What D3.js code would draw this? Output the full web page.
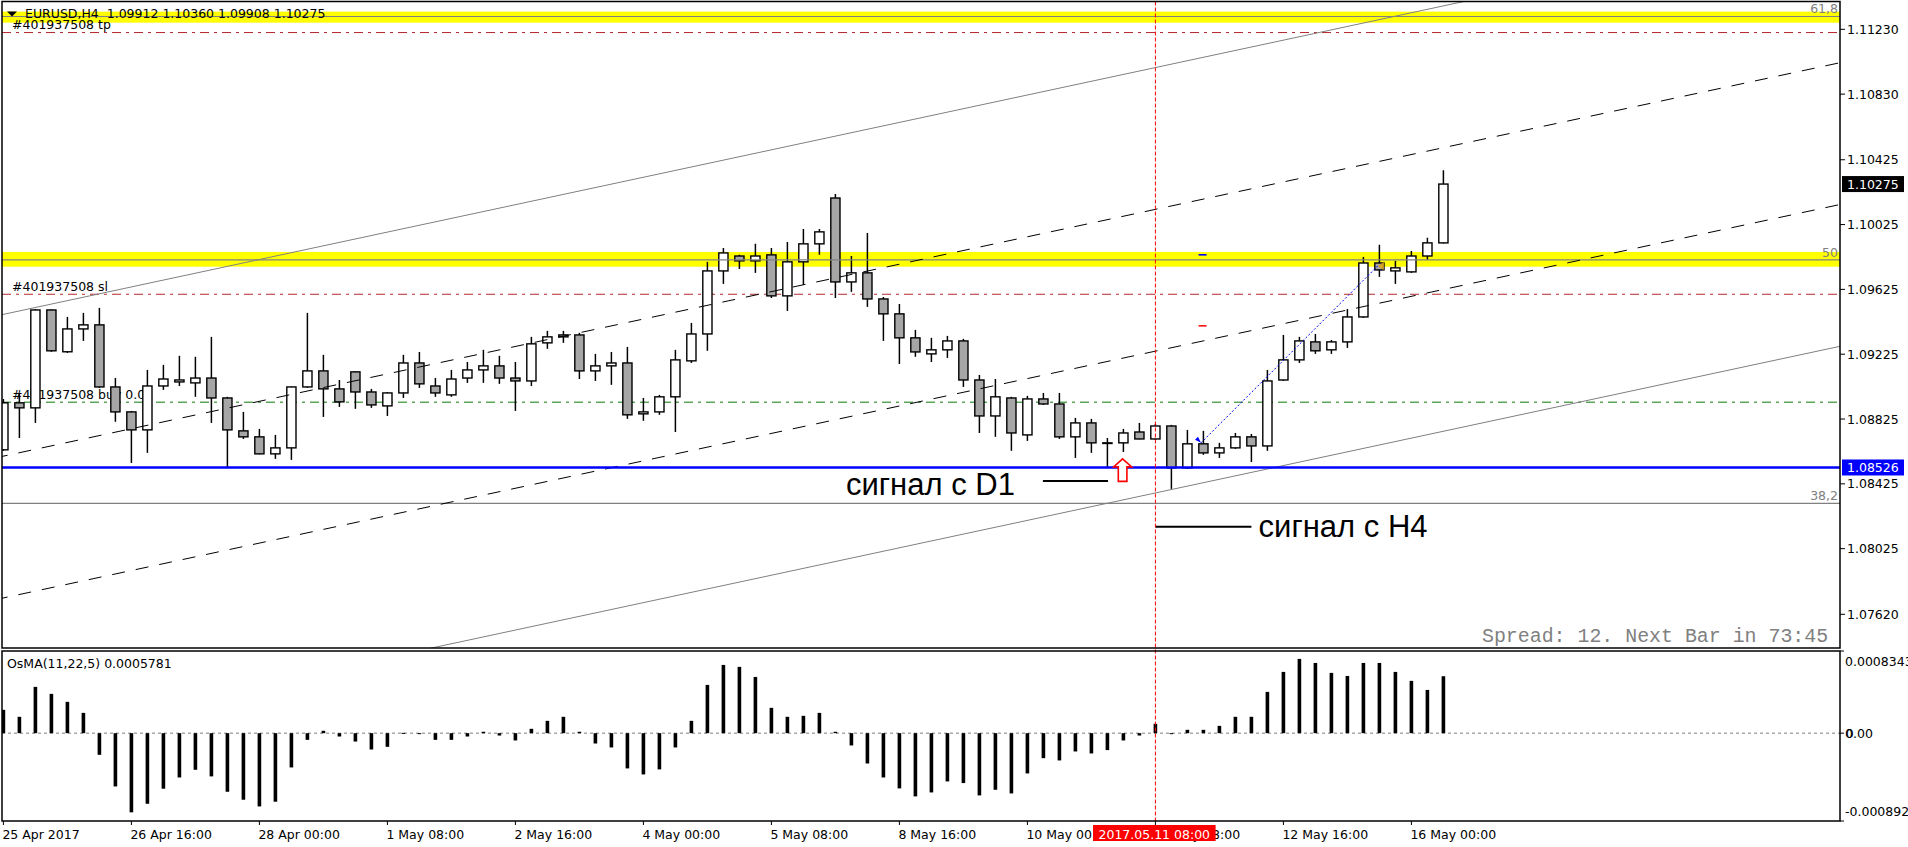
<!DOCTYPE html>
<html>
  <head>
    <title>EURUSD,H4</title>
    <style type="text/css">
        body{
            margin: 0;
            background: #ffffff;
        }
        svg text{
            font-family: "DejaVu Sans", sans-serif;
            font-size: 12.5px;
            fill: #000000;
            white-space: pre;
        }
        .frame{ fill: none; stroke: #000000; stroke-width: 1.5px; }
        .bull{ fill: #ffffff; stroke: #000000; stroke-width: 1.4px; }
        .bear{ fill: #a6a6a6; stroke: #000000; stroke-width: 1.4px; }
        .wick{ stroke: #000000; stroke-width: 1.5px; }
        .osma{ fill: #000000; }
        .big{ font-family: "Liberation Sans", Arial, sans-serif; font-size: 31px; }
        .mono{ font-family: "Liberation Mono", "Courier New", monospace; font-size: 19.9px; fill: #808080; }
    </style>
  </head>

  <body>
    <div id="chart"></div>

    <script src="https://cdn.jsdelivr.net/npm/d3@7"></script>
    <script>
        // candles, one row per H4 bar: open, high, low, close
        var ohlc = [
            [1.08635, 1.08949, 1.08629, 1.08925], [1.08925, 1.08986, 1.08708, 1.08894],
            [1.08894, 1.09504, 1.08801, 1.09498], [1.09498, 1.09502, 1.09240, 1.09246],
            [1.09240, 1.09455, 1.09233, 1.09381], [1.09381, 1.09480, 1.09307, 1.09406],
            [1.09406, 1.09511, 1.09017, 1.09023], [1.09023, 1.09078, 1.08808, 1.08869],
            [1.08869, 1.08875, 1.08554, 1.08758], [1.08758, 1.09128, 1.08616, 1.09029],
            [1.09029, 1.09159, 1.09005, 1.09072], [1.09054, 1.09215, 1.09029, 1.09066],
            [1.09048, 1.09209, 1.08962, 1.09078], [1.09078, 1.09332, 1.08801, 1.08955],
            [1.08955, 1.08962, 1.08525, 1.08758], [1.08752, 1.08869, 1.08702, 1.08715],
            [1.08715, 1.08764, 1.08608, 1.08610], [1.08610, 1.08727, 1.08579, 1.08647],
            [1.08647, 1.09026, 1.08573, 1.09023], [1.09023, 1.09480, 1.09017, 1.09122],
            [1.09122, 1.09221, 1.08838, 1.09011], [1.09011, 1.09066, 1.08900, 1.08931],
            [1.09116, 1.09118, 1.08888, 1.08992], [1.08992, 1.09011, 1.08894, 1.08912],
            [1.08906, 1.08992, 1.08844, 1.08986], [1.08986, 1.09221, 1.08955, 1.09171],
            [1.09171, 1.09239, 1.09017, 1.09042], [1.09029, 1.09078, 1.08962, 1.08986],
            [1.08974, 1.09128, 1.08962, 1.09072], [1.09078, 1.09177, 1.09048, 1.09128],
            [1.09128, 1.09252, 1.09048, 1.09153], [1.09153, 1.09215, 1.09042, 1.09078],
            [1.09078, 1.09177, 1.08875, 1.09060], [1.09060, 1.09332, 1.09029, 1.09289],
            [1.09295, 1.09369, 1.09258, 1.09332], [1.09344, 1.09369, 1.09295, 1.09332],
            [1.09344, 1.09357, 1.09072, 1.09122], [1.09122, 1.09227, 1.09060, 1.09153],
            [1.09153, 1.09239, 1.09036, 1.09171], [1.09171, 1.09270, 1.08826, 1.08851],
            [1.08857, 1.08955, 1.08814, 1.08869], [1.08869, 1.08974, 1.08851, 1.08962],
            [1.08962, 1.09252, 1.08745, 1.09190], [1.09184, 1.09418, 1.09171, 1.09350],
            [1.09350, 1.09795, 1.09246, 1.09739], [1.09739, 1.09881, 1.09659, 1.09850],
            [1.09831, 1.09838, 1.09751, 1.09801], [1.09801, 1.09906, 1.09727, 1.09831],
            [1.09838, 1.09881, 1.09572, 1.09585], [1.09585, 1.09918, 1.09492, 1.09795],
            [1.09795, 1.09998, 1.09653, 1.09906], [1.09906, 1.09998, 1.09838, 1.09980],
            [1.10189, 1.10214, 1.09572, 1.09671], [1.09671, 1.09831, 1.09610, 1.09727],
            [1.09727, 1.09973, 1.09517, 1.09566], [1.09566, 1.09578, 1.09307, 1.09474],
            [1.09474, 1.09535, 1.09165, 1.09326], [1.09326, 1.09375, 1.09209, 1.09239],
            [1.09227, 1.09326, 1.09177, 1.09252], [1.09252, 1.09338, 1.09202, 1.09307],
            [1.09307, 1.09320, 1.09023, 1.09066], [1.09066, 1.09097, 1.08739, 1.08844],
            [1.08844, 1.09072, 1.08715, 1.08962], [1.08955, 1.08962, 1.08629, 1.08739],
            [1.08727, 1.08968, 1.08690, 1.08949], [1.08949, 1.08986, 1.08912, 1.08918],
            [1.08918, 1.08986, 1.08702, 1.08715], [1.08715, 1.08832, 1.08585, 1.08801],
            [1.08801, 1.08826, 1.08616, 1.08678], [1.08678, 1.08708, 1.08530, 1.08676],
            [1.08678, 1.08764, 1.08622, 1.08739], [1.08745, 1.08801, 1.08700, 1.08702],
            [1.08702, 1.08795, 1.08696, 1.08782], [1.08782, 1.08789, 1.08394, 1.08524],
            [1.08524, 1.08758, 1.08518, 1.08672], [1.08672, 1.08752, 1.08604, 1.08616],
            [1.08616, 1.08678, 1.08585, 1.08647], [1.08647, 1.08739, 1.08641, 1.08715],
            [1.08715, 1.08733, 1.08560, 1.08659], [1.08659, 1.09128, 1.08629, 1.09060],
            [1.09066, 1.09344, 1.09060, 1.09190], [1.09190, 1.09332, 1.09171, 1.09307],
            [1.09301, 1.09350, 1.09227, 1.09246], [1.09252, 1.09313, 1.09227, 1.09301],
            [1.09301, 1.09504, 1.09264, 1.09455], [1.09455, 1.09825, 1.09449, 1.09788],
            [1.09788, 1.09900, 1.09702, 1.09745], [1.09739, 1.09801, 1.09659, 1.09758],
            [1.09733, 1.09862, 1.09727, 1.09831], [1.09831, 1.09943, 1.09807, 1.09912],
            [1.09912, 1.10360, 1.09908, 1.10275]
        ];

        // OsMA(11,22,5) histogram, same bars
        var osma = [
            0.000237, 0.000166, 0.000470, 0.000399, 0.000318, 0.000206, -0.000220, -0.000541,
            -0.000804, -0.000717, -0.000564, -0.000450, -0.000372, -0.000439, -0.000595, -0.000676,
            -0.000744, -0.000696, -0.000348, -0.000068, 0.000024, -0.000034, -0.000085, -0.000166,
            -0.000139, 0.000003, -0.000008, -0.000068, -0.000068, -0.000034, 0.000014, -0.000024,
            -0.000074, 0.000044, 0.000125, 0.000166, 0.000014, -0.000105, -0.000145, -0.000358,
            -0.000419, -0.000368, -0.000145, 0.000125, 0.000490, 0.000693, 0.000673, 0.000571,
            0.000257, 0.000166, 0.000176, 0.000206, 0.000014, -0.000125, -0.000308, -0.000450,
            -0.000561, -0.000642, -0.000602, -0.000490, -0.000507, -0.000632, -0.000575, -0.000612,
            -0.000409, -0.000254, -0.000277, -0.000186, -0.000206, -0.000172, -0.000074, -0.000024,
            0.000095, -0.000010, 0.000034, 0.000034, 0.000074, 0.000166, 0.000166, 0.000419,
            0.000622, 0.000754, 0.000713, 0.000612, 0.000581, 0.000713, 0.000713, 0.000622,
            0.000531, 0.000439, 0.0005781
        ];

        var priceTicks = ["1.11230", "1.10830", "1.10425", "1.10025", "1.09625",
                          "1.09225", "1.08825", "1.08425", "1.08025", "1.07620"];
        var timeLabels = ["25 Apr 2017", "26 Apr 16:00", "28 Apr 00:00", "1 May 08:00",
                          "2 May 16:00", "4 May 00:00", "5 May 08:00", "8 May 16:00",
                          "10 May 00:00", "11 May 08:00", "12 May 16:00", "16 May 00:00"];
        var osmaTicks = [0.0008343, 0, -0.000892];
        var osmaTickLabels = ["0.0008343", "0.00", "-0.000892"];

        // chart objects
        var zones = [[1.11271, 1.11339], [1.09765, 1.09856]];
        var fibPrices = [1.11309, 1.09807, 1.08305];
        var fibNames = ["61,8", "50", "38,2"];
        var orderPrices = [1.11210, 1.09595, 1.08929];
        var orderNames = ["#401937508 tp", "#401937508 sl", "#401937508 buy 0.01"];
        var orderColors = ["#b4282d", "#b4282d", "#0a780a"];
        var channelStart = [1.09471, 1.08596, 1.07721, 1.06846];   // price at bar 0
        var channelStep = 0.0002115;                                // per bar
        var levelLine = 1.08526;
        var cursorBar = 72, cursorLabel = "2017.05.11 08:00";
        var tradeLine = [[74.85, 1.08678], [85.9, 1.09770]];
        var signalArrow = [69.95, 1.08579];
        var notes = [
            {text: "сигнал с D1", bar: 52.66, price: 1.08357, from: 64.97, to: 69.04, at: 1.08443},
            {text: "сигнал с H4", bar: 78.45, price: 1.08098, from: 72.0, to: 78.0, at: 1.08161}
        ];

        var width = 1908, height = 847;
        var left = 2, right = 1840, mainTop = 1.5, mainBottom = 648, subTop = 651, subBottom = 821;

        var svg = d3.select("#chart").append("svg")
            .attr("width", width)
            .attr("height", height);

        var x = d3.scaleLinear().domain([0, 90]).range([3.4, 1443.4]);
        var y = d3.scaleLinear().domain([1.07620, 1.11230]).range([614.3, 29.3]);
        var yo = d3.scaleLinear().domain([-0.000892, 0.0008343]).range([subBottom, subTop]);

        var defs = svg.append("defs");
        defs.append("clipPath").attr("id", "clip-main").append("rect")
            .attr("x", left).attr("y", mainTop).attr("width", right - left).attr("height", mainBottom - mainTop);
        defs.append("clipPath").attr("id", "clip-sub").append("rect")
            .attr("x", left).attr("y", subTop).attr("width", right - left).attr("height", subBottom - subTop);

        var main = svg.append("g").attr("clip-path", "url(#clip-main)");

        //  background rectangles
        main.selectAll(".zone").data(zones).enter().append("rect")
            .attr("class", "zone")
            .attr("x", left).attr("width", right - left)
            .attr("y", d => y(d[1]))
            .attr("height", d => y(d[0]) - y(d[1]))
            .attr("fill", "#ffff00");

        //  order levels and their labels (under the bars)
        main.selectAll(".order").data(orderPrices).enter().append("line")
            .attr("x1", left).attr("x2", right)
            .attr("y1", d => y(d)).attr("y2", d => y(d))
            .attr("stroke", (d, i) => orderColors[i])
            .attr("stroke-width", 1)
            .attr("stroke-dasharray", "9,5,3,5");
        main.selectAll(".order-label").data(orderPrices).enter().append("text")
            .attr("x", 12).attr("y", d => y(d) - 3.5)
            .text((d, i) => orderNames[i]);

        //  candles
        var candle = main.append("g").selectAll("g").data(ohlc).enter().append("g");
        candle.append("line")
            .attr("class", "wick")
            .attr("x1", (d, i) => x(i)).attr("x2", (d, i) => x(i))
            .attr("y1", d => y(d[1])).attr("y2", d => y(d[2]));
        candle.append("rect")
            .attr("class", d => d[3] >= d[0] ? "bull" : "bear")
            .attr("x", (d, i) => x(i) - 4.6)
            .attr("width", 9.2)
            .attr("y", d => y(Math.max(d[0], d[3])))
            .attr("height", d => Math.max(0.6, Math.abs(y(d[0]) - y(d[3]))));

        //  fibonacci levels
        main.selectAll(".fib").data(fibPrices).enter().append("line")
            .attr("x1", left).attr("x2", right)
            .attr("y1", d => y(d)).attr("y2", d => y(d))
            .attr("stroke", "#808080").attr("stroke-width", 1.2);
        main.selectAll(".fib-label").data(fibPrices).enter().append("text")
            .attr("x", right - 2).attr("y", d => y(d) - 3)
            .attr("text-anchor", "end")
            .style("fill", "#808080")
            .text((d, i) => fibNames[i]);

        //  equidistant channel
        main.selectAll(".channel").data(channelStart).enter().append("line")
            .attr("x1", x(-2)).attr("x2", x(116))
            .attr("y1", d => y(d - 2 * channelStep))
            .attr("y2", d => y(d + 116 * channelStep))
            .attr("stroke", (d, i) => (i == 0 || i == 3) ? "#808080" : "#000000")
            .attr("stroke-width", 1)
            .attr("stroke-dasharray", (d, i) => (i == 0 || i == 3) ? null : "13,11");

        //  horizontal level
        main.append("line")
            .attr("x1", left).attr("x2", right)
            .attr("y1", y(levelLine)).attr("y2", y(levelLine))
            .attr("stroke", "#0000ff").attr("stroke-width", 2.4);

        //  closed trade
        main.append("line")
            .attr("x1", x(tradeLine[0][0])).attr("y1", y(tradeLine[0][1]))
            .attr("x2", x(tradeLine[1][0])).attr("y2", y(tradeLine[1][1]))
            .attr("stroke", "#0000ff").attr("stroke-width", 1).attr("stroke-dasharray", "2,2");
        main.append("path")
            .attr("transform", "translate(" + x(tradeLine[0][0]) + "," + y(tradeLine[0][1]) + ")")
            .attr("d", "M0,0 L-6,-3 L-3,-6 Z").attr("fill", "#0000ff");
        main.append("path")
            .attr("transform", "translate(" + x(tradeLine[1][0]) + "," + y(tradeLine[1][1]) + ")")
            .attr("d", "M0,0 L6,-4 L6,4 Z").attr("fill", "#d4a020");
        main.append("line")
            .attr("x1", x(74.7)).attr("x2", x(75.2))
            .attr("y1", y(1.09838)).attr("y2", y(1.09838))
            .attr("stroke", "#0000ff").attr("stroke-width", 1.5);
        main.append("line")
            .attr("x1", x(74.7)).attr("x2", x(75.2))
            .attr("y1", y(1.09400)).attr("y2", y(1.09400))
            .attr("stroke", "#ff0000").attr("stroke-width", 1.5);

        //  signal arrow
        main.append("path")
            .attr("transform", "translate(" + x(signalArrow[0]) + "," + y(signalArrow[1]) + ")")
            .attr("d", "M0,0 L9,8 L4.3,8 L4.3,22.5 L-4.3,22.5 L-4.3,8 L-9,8 Z")
            .attr("fill", "#ffffff").attr("stroke", "#ff0000").attr("stroke-width", 1.6);

        //  notes
        main.selectAll(".note-line").data(notes).enter().append("line")
            .attr("x1", d => x(d.from)).attr("x2", d => x(d.to))
            .attr("y1", d => y(d.at)).attr("y2", d => y(d.at))
            .attr("stroke", "#000000").attr("stroke-width", 2);
        main.selectAll(".note").data(notes).enter().append("text")
            .attr("class", "big")
            .attr("x", d => x(d.bar)).attr("y", d => y(d.price))
            .text(d => d.text);

        main.append("text")
            .attr("class", "mono")
            .attr("x", 1482).attr("y", 642)
            .text("Spread: 12. Next Bar in 73:45");

        //  title
        svg.append("path").attr("d", "M7,11.5 L17,11.5 L12,16.5 Z").attr("fill", "#000000");
        svg.append("text").attr("x", 25).attr("y", 17.5)
            .text("EURUSD,H4  " + ohlc[90].map(v => v.toFixed(5)).join(" "));

        //  indicator window
        var sub = svg.append("g").attr("clip-path", "url(#clip-sub)");
        sub.append("line")
            .attr("x1", left).attr("x2", right)
            .attr("y1", yo(0)).attr("y2", yo(0))
            .attr("stroke", "#808080").attr("stroke-width", 1).attr("stroke-dasharray", "3,3");
        sub.selectAll(".osma").data(osma).enter().append("rect")
            .attr("class", "osma")
            .attr("x", (d, i) => x(i) - 1.8).attr("width", 3.6)
            .attr("y", d => Math.min(yo(d), yo(0)))
            .attr("height", d => Math.max(1, Math.abs(yo(d) - yo(0))));
        svg.append("text").attr("x", 7).attr("y", 668)
            .text("OsMA(11,22,5) " + osma[osma.length - 1].toFixed(7));

        //  cursor line
        svg.append("line")
            .attr("x1", x(cursorBar)).attr("x2", x(cursorBar))
            .attr("y1", mainTop).attr("y2", subBottom)
            .attr("stroke", "#ff0000").attr("stroke-width", 1).attr("stroke-dasharray", "4,2");

        //  frames
        svg.append("rect").attr("class", "frame")
            .attr("x", left).attr("y", mainTop).attr("width", right - left).attr("height", mainBottom - mainTop);
        svg.append("rect").attr("class", "frame")
            .attr("x", left).attr("y", subTop).attr("width", right - left).attr("height", subBottom - subTop);

        //  price axis
        var pAxis = svg.append("g");
        pAxis.selectAll("line").data(priceTicks).enter().append("line")
            .attr("x1", right).attr("x2", right + 5)
            .attr("y1", d => y(+d)).attr("y2", d => y(+d))
            .attr("stroke", "#000000");
        pAxis.selectAll("text").data(priceTicks).enter().append("text")
            .attr("x", right + 7).attr("y", d => y(+d)).attr("dy", "0.36em")
            .text(d => d);

        function priceBox(price, color) {
            svg.append("rect")
                .attr("x", right + 2).attr("y", y(price) - 8)
                .attr("width", 62).attr("height", 16)
                .attr("fill", color);
            svg.append("text")
                .attr("x", right + 7).attr("y", y(price)).attr("dy", "0.36em")
                .style("fill", "#ffffff")
                .text(price.toFixed(5));
        }
        priceBox(levelLine, "#0000ff");
        priceBox(ohlc[90][3], "#000000");

        //  indicator axis
        svg.selectAll(".otick").data(osmaTicks).enter().append("line")
            .attr("x1", right).attr("x2", right + 4)
            .attr("y1", d => yo(d)).attr("y2", d => yo(d))
            .attr("stroke", "#000000");
        svg.selectAll(".olabel").data(osmaTicks).enter().append("text")
            .attr("x", right + 5)
            .attr("y", d => Math.min(Math.max(yo(d), subTop + 10), subBottom - 10))
            .attr("dy", "0.36em")
            .text((d, i) => osmaTickLabels[i]);
        svg.append("text").attr("x", right + 5.7).attr("y", yo(0)).attr("dy", "0.36em").text("0");

        //  time axis
        var tAxis = svg.append("g");
        tAxis.selectAll("line").data(timeLabels).enter().append("line")
            .attr("x1", (d, i) => x(i * 8)).attr("x2", (d, i) => x(i * 8))
            .attr("y1", subBottom).attr("y2", subBottom + 4)
            .attr("stroke", "#000000");
        tAxis.selectAll("text").data(timeLabels).enter().append("text")
            .attr("x", (d, i) => x(i * 8) - 1).attr("y", 838.5)
            .text(d => d);
        svg.append("rect")
            .attr("x", 1093).attr("y", 825)
            .attr("width", 122.6).attr("height", 16)
            .attr("fill", "#ff0000");
        svg.append("text")
            .attr("x", 1154.3).attr("y", 838.5).attr("text-anchor", "middle")
            .style("fill", "#ffffff")
            .text(cursorLabel);
    </script>
  </body>
</html>
